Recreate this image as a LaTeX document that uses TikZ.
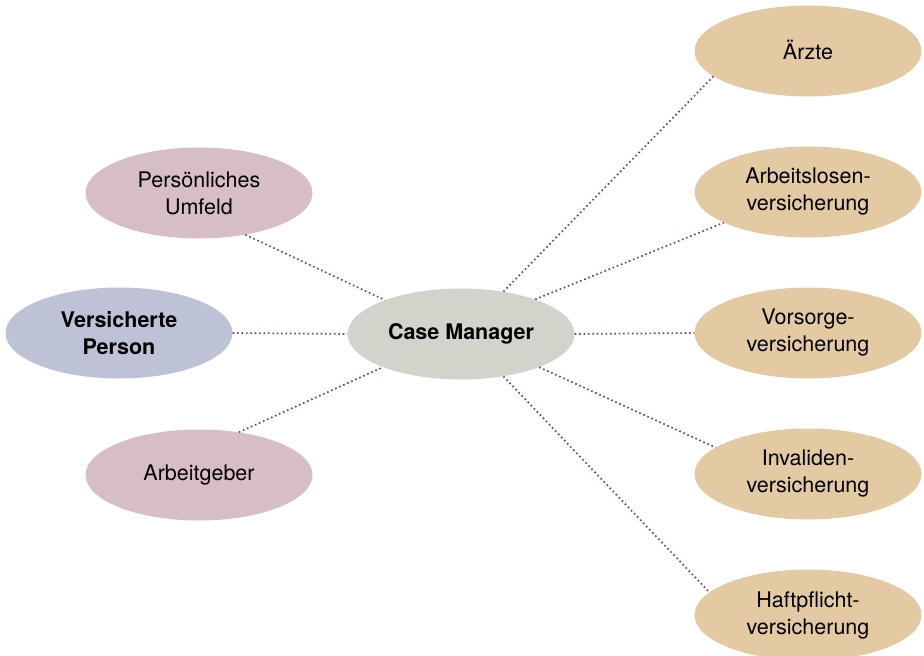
\documentclass[tikz,border=0pt]{standalone}
\usepackage{fontspec}
\setmainfont{TeX Gyre Heros}
\usetikzlibrary{shapes.geometric}
\definecolor{cmfill}{HTML}{D4D3CB}
\definecolor{vpfill}{HTML}{BDC2D6}
\definecolor{pufill}{HTML}{D7BDC6}
\definecolor{rfill}{HTML}{E4CAA3}
\definecolor{linkcol}{HTML}{7A3F5C}
\begin{document}
\begin{tikzpicture}[x=1pt,y=-1pt,
  bubble/.style={ellipse,minimum width=227pt,minimum height=91pt,inner sep=0pt,
    draw=none,align=center,font=\fontsize{21.5pt}{27pt}\selectfont},
  link/.style={draw=linkcol,line width=1.7pt,dash pattern=on 1.6pt off 2.8pt}]
\useasboundingbox (0,0) rectangle (924,656);
\clip (0,0) rectangle (924,656);
\node[bubble,fill=cmfill,font=\fontsize{21.5pt}{27pt}\selectfont\bfseries] (cm) at (461,334) {Case Manager};
\node[bubble,fill=vpfill,font=\fontsize{21.5pt}{27pt}\selectfont\bfseries] (vp) at (119,333) {Versicherte\\Person};
\node[bubble,fill=pufill] (pu) at (199,193) {Persönliches\\Umfeld};
\node[bubble,fill=pufill] (ag) at (199,475) {Arbeitgeber};
\node[bubble,fill=rfill] (ae) at (808,51) {\raisebox{3pt}{Ärzte}};
\node[bubble,fill=rfill] (al) at (808,192) {Arbeitslosen-\\versicherung};
\node[bubble,fill=rfill] (vs) at (808,333) {Vorsorge-\\versicherung};
\node[bubble,fill=rfill] (iv) at (808,474) {Invaliden-\\versicherung};
\node[bubble,fill=rfill] (hp) at (808,615) {Haftpflicht-\\versicherung};
\draw[link] (pu.-42.5) -- (cm.156.5);
\draw[link] (vp.east) -- (cm.west);
\draw[link] (ag.47.8) -- (cm.203.3);
\draw[link] (cm.45) -- (ae.195.6);
\draw[link] (cm.25.3) -- (al.200);
\draw[link] (cm.east) -- (vs.west);
\draw[link] (cm.-23.3) -- (iv.164);
\draw[link] (cm.-45.7) -- (hp.167.6);
\end{tikzpicture}
\end{document}
